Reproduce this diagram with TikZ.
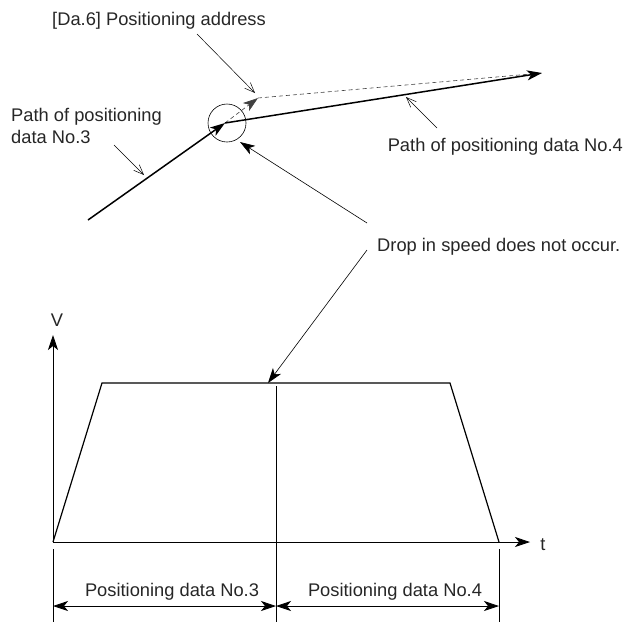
\documentclass[tikz,border=0pt]{standalone}
\usepackage{fontspec}
\setmainfont{Liberation Sans}
\usetikzlibrary{arrows.meta}
\begin{document}
\begin{tikzpicture}[x=1pt,y=-1pt,
  lbl/.style={font=\fontsize{18.3}{22}\selectfont, inner sep=0pt, text=black!85},
  thick path/.style={line width=1.5pt},
  filltip/.style={-{Stealth[length=15pt,width=10pt,inset=4pt]}},
  opentip/.style={line width=0.5pt,-{Straight Barb[length=10pt,width=8pt]}},
  lead/.style={line width=0.6pt},
  axis/.style={line width=0.8pt},
  dimarr/.style={line width=0.8pt,{Stealth[length=15pt,width=10pt,inset=4pt]}-{Stealth[length=15pt,width=10pt,inset=4pt]}}
]
\useasboundingbox (0,0) rectangle (634,622);
% ---------- top: paths ----------
\coordinate (s3) at (88,220);
\coordinate (j) at (225,123);
\coordinate (pa) at (258,98);
\coordinate (e4) at (542,73);
\draw[lead, dash pattern=on 4pt off 3pt, black!75, filltip] (j) -- (pa);
\draw[lead, dash pattern=on 4pt off 3pt, black!75] (pa) -- (e4);
\draw[thick path, filltip] (s3) -- (j);
\draw[thick path, filltip] (j) -- (e4);
\node[draw, circle, line width=0.6pt, minimum size=38pt, inner sep=0pt] (circ) at (227,123) {};
% labels
\node[lbl, anchor=west] (da6) at (52,21) {[Da.6] Positioning address};
\node[lbl, anchor=west, align=left] (p3) at (11,126) {Path of positioning\\data No.3};
\node[lbl, anchor=east] (p4) at (623,147) {Path of positioning data No.4};
\node[lbl, anchor=west] (drop) at (377,247) {Drop in speed does not occur.};
% leaders
\coordinate (l1a) at (197,34);  \coordinate (l1b) at (255,93);
\draw[opentip] (l1a) -- (l1b);
\coordinate (l2a) at (114,145); \coordinate (l2b) at (144,175);
\draw[opentip] (l2a) -- (l2b);
\coordinate (l3a) at (437,128); \coordinate (l3b) at (406,97);
\draw[opentip] (l3a) -- (l3b);
\coordinate (l4a) at (367,223); \coordinate (l4b) at (240,142);
\draw[lead, filltip] (l4a) -- (l4b);
\coordinate (l5a) at (367,250); \coordinate (l5b) at (268,383);
\draw[lead, filltip] (l5a) -- (l5b);
% ---------- bottom: chart ----------
\coordinate (o) at (53,542);
\coordinate (vtop) at (53,335);
\coordinate (tend) at (530,542);
\draw[axis, filltip] (o) -- (vtop);
\draw[axis, filltip] (o) -- (tend);
\node[lbl] (V) at (57,320) {V};
\node[lbl] (t) at (543,545) {t};
\coordinate (a1) at (102,383);
\coordinate (a2) at (450,383);
\coordinate (a3) at (499,542);
\draw[line width=1.2pt, line join=miter] (o) -- (a1) -- (a2) -- (a3);
% divider and ticks
\coordinate (dvt) at (276,386); \coordinate (dvb) at (276,622);
\draw[axis] (dvt) -- (dvb);
\coordinate (tlt) at (53,549); \coordinate (tlb) at (53,622);
\draw[axis] (tlt) -- (tlb);
\coordinate (trt) at (499,549); \coordinate (trb) at (499,622);
\draw[axis] (trt) -- (trb);
\coordinate (d1) at (53,606); \coordinate (d2) at (276,606); \coordinate (d3) at (499,606);
\draw[dimarr] (d1) -- (d2);
\draw[dimarr] (d2) -- (d3);
\node[lbl] (pd3) at (172,592) {Positioning data No.3};
\node[lbl] (pd4) at (395,592) {Positioning data No.4};
\end{tikzpicture}
\end{document}
